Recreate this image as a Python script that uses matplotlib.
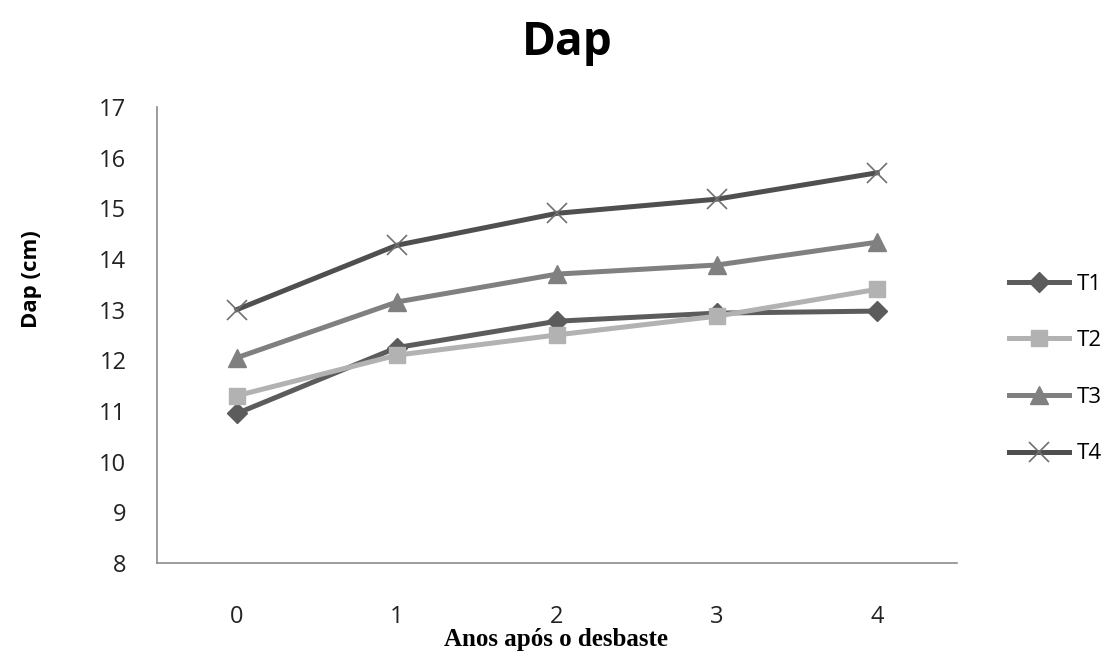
import matplotlib.pyplot as plt

# dados do gráfico
anos = [0, 1, 2, 3, 4]
t1 = [10.95, 12.25, 12.77, 12.93, 12.97]
t2 = [11.3, 12.1, 12.5, 12.87, 13.4]
t3 = [12.05, 13.15, 13.7, 13.88, 14.33]
t4 = [13.0, 14.27, 14.9, 15.18, 15.7]
series_labels = ['T1', 'T2', 'T3', 'T4']
yticks = [8, 9, 10, 11, 12, 13, 14, 15, 16, 17]

fig = plt.figure(figsize=(11.13, 6.56), dpi=100)
ax = fig.add_axes([0.141, 0.142, 0.719, 0.695])

ax.plot(anos, t1, color='#5c5c5c', lw=3.6, marker='D', ms=10, label=series_labels[0])
ax.plot(anos, t2, color='#b2b2b2', lw=3.6, marker='s', ms=12, label=series_labels[1])
ax.plot(anos, t3, color='#808080', lw=3.6, marker='^', ms=13, label=series_labels[2])
ax.plot(anos, t4, color='#4f4f4f', lw=3.6, marker='x', ms=14, mew=1.2,
        mec='#707070', label=series_labels[3])

ax.set_xlim(-0.5, 4.5)
ax.set_ylim(8, 17)
ax.set_xticks(anos)
ax.set_yticks(yticks)
ax.tick_params(length=0, labelsize=17, colors='#222222')
ax.tick_params(axis='x', pad=30)
ax.tick_params(axis='y', pad=22)
for lab in ax.get_xticklabels() + ax.get_yticklabels():
    lab.set_family('Open Sans')

for s in ['top', 'right']:
    ax.spines[s].set_visible(False)
for s in ['left', 'bottom']:
    ax.spines[s].set_color('#8c8c8c')
    ax.spines[s].set_linewidth(1.2)

fig.text(0.51, 0.935, 'Dap', ha='center', va='center', fontsize=33,
         fontweight='bold', family='Open Sans')
fig.text(0.028, 0.575, 'Dap (cm)', ha='center', va='center', rotation=90,
         fontsize=16, fontweight='bold', family='Open Sans')
fig.text(0.5, 0.025, 'Anos após o desbaste', ha='center', va='center',
         fontsize=18, fontweight='bold', family='Liberation Serif')

leg = fig.legend(loc='center left', bbox_to_anchor=(0.889, 0.4375), frameon=False,
                 prop={'family': 'Open Sans', 'size': 16}, handlelength=2.7,
                 handletextpad=0.35, labelspacing=1.6)

fig.savefig('out.png', dpi=100)
